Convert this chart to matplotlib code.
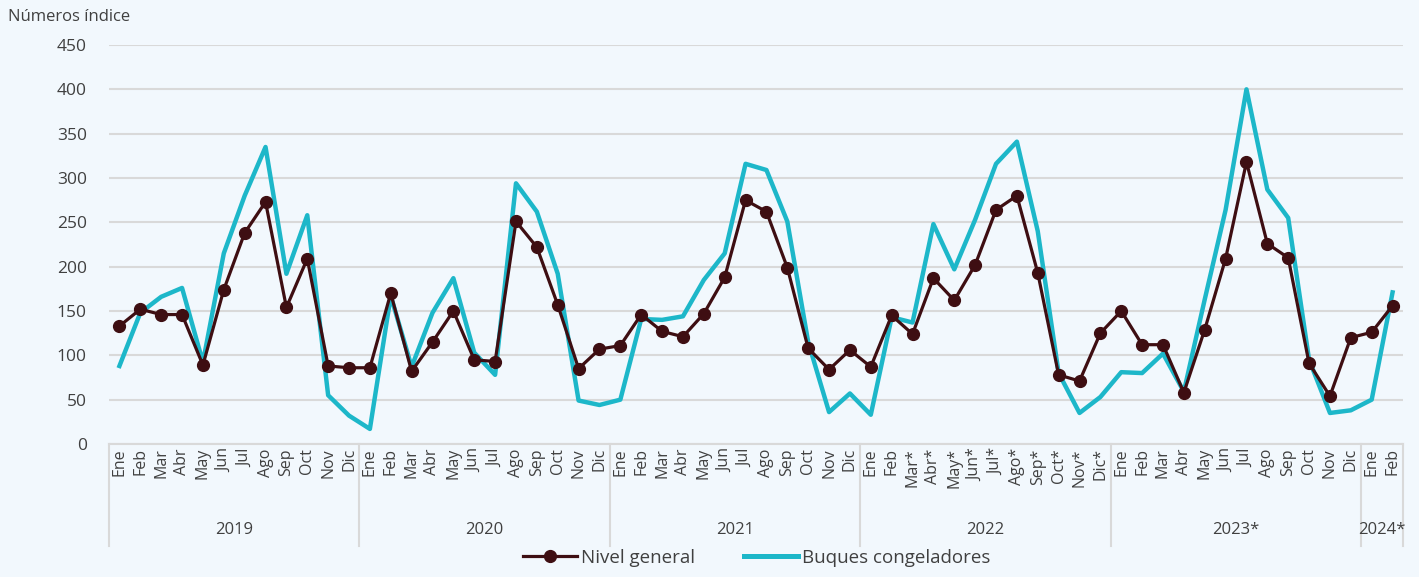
import matplotlib
matplotlib.use("Agg")
import matplotlib.pyplot as plt
import matplotlib.transforms as mtransforms
from matplotlib.lines import Line2D

plt.rcParams['font.family'] = ['Open Sans', 'DejaVu Sans']

# datos
meses = ["Ene", "Feb", "Mar", "Abr", "May", "Jun", "Jul", "Ago", "Sep", "Oct", "Nov", "Dic"]
meses_2022 = ["Ene", "Feb", "Mar*", "Abr*", "May*", "Jun*", "Jul*", "Ago*", "Sep*", "Oct*", "Nov*", "Dic*"]
etiquetas = meses + meses + meses + meses_2022 + meses + ["Ene", "Feb"]
anios = ["2019", "2020", "2021", "2022", "2023*", "2024*"]
meses_por_anio = [12, 12, 12, 12, 12, 2]

nivel_general = [
    133, 152, 146, 146, 89, 174, 238, 273, 154, 209, 88, 86,
    86, 170, 82, 115, 150, 95, 93, 251, 222, 157, 85, 107,
    111, 146, 127, 121, 147, 188, 275, 262, 199, 108, 84, 106,
    87, 145, 124, 187, 162, 202, 264, 280, 193, 78, 71, 125,
    150, 112, 112, 58, 129, 209, 318, 226, 210, 91, 54, 120,
    126, 156,
]
buques_congeladores = [
    88, 148, 166, 176, 92, 215, 280, 335, 192, 258, 55, 32,
    17, 167, 87, 148, 187, 103, 78, 294, 262, 192, 49, 44,
    50, 141, 140, 144, 185, 215, 316, 309, 251, 115, 36, 57,
    33, 143, 137, 248, 197, 253, 316, 341, 240, 80, 35, 53,
    81, 80, 102, 59, 163, 264, 400, 287, 255, 95, 35, 38,
    50, 171,
]

fondo = "#F2F8FD"
granate = "#3E0E12"
cian = "#1DB7C9"
gris = "#D9D9D9"
texto = "#404040"

fig = plt.figure(figsize=(14.19, 5.77), dpi=100, facecolor=fondo)
ax = fig.add_axes([109 / 1419, 133 / 577, 1294 / 1419, 399 / 577], facecolor=fondo)

x = list(range(len(etiquetas)))
ax.plot(x, nivel_general, color=granate, lw=2.3, marker="o", ms=8.5, zorder=3)
ax.plot(x, buques_congeladores, color=cian, lw=3.2, zorder=2)

ax.set_xlim(-0.5, len(etiquetas) - 0.5)
ax.set_ylim(0, 450)
ax.set_yticks(range(0, 451, 50))
ax.yaxis.grid(True, color=gris, lw=1.5)
ax.set_axisbelow(True)
for s in ["top", "right", "left"]:
    ax.spines[s].set_visible(False)
ax.spines["bottom"].set_color(gris)
ax.spines["bottom"].set_linewidth(1.5)
ax.tick_params(axis="y", length=0, labelsize=12.5, labelcolor=texto, pad=16)
ax.set_xticks(x)
ax.set_xticklabels(etiquetas, rotation=90, fontsize=11.5, color=texto)
ax.tick_params(axis="x", length=0, pad=3)

# separadores y etiquetas de años
trans = mtransforms.blended_transform_factory(ax.transData, ax.transAxes)
inicio = 0
bordes = [-0.5]
for anio, n in zip(anios, meses_por_anio):
    centro = inicio + (n - 1) / 2
    ax.text(centro, -0.215, anio, transform=trans, ha="center", va="center",
            fontsize=12, color=texto)
    inicio += n
    bordes.append(inicio - 0.5)
for b in bordes:
    ax.add_line(Line2D([b, b], [0, -0.255], transform=trans, color=gris,
                       lw=1.5, clip_on=False))

fig.text(8 / 1419, 1 - 17 / 577, "Números índice", fontsize=12, color=texto,
         ha="left", va="center")

h1 = Line2D([], [], color=granate, lw=2.3, marker="o", ms=8.5)
h2 = Line2D([], [], color=cian, lw=3.6)
fig.legend([h1, h2], ["Nivel general", "Buques congeladores"],
           loc="center", bbox_to_anchor=(0.533, 1 - 558 / 577), ncol=2,
           frameon=False, fontsize=13.5, handlelength=2.9, columnspacing=2.6,
           handletextpad=0.2, labelcolor=texto)

fig.savefig("out.png", dpi=100, facecolor=fondo)
